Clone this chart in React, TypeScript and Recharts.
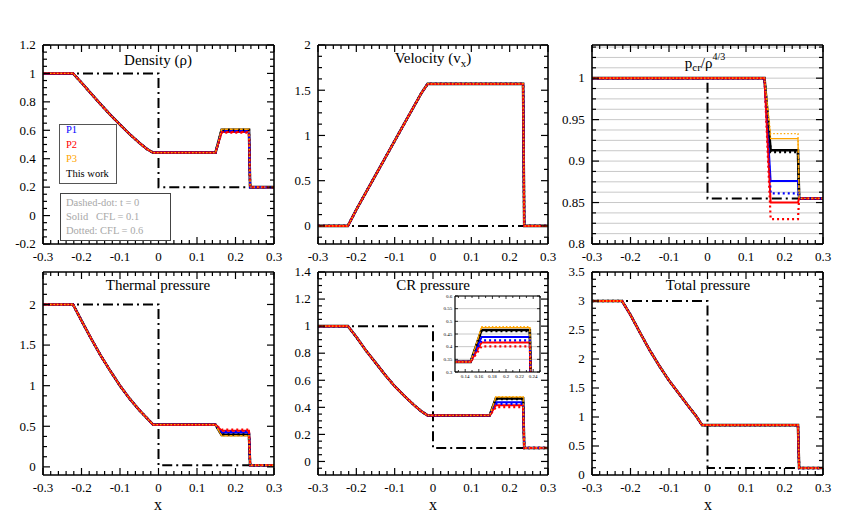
import React from 'react';
import { LineChart, Line, XAxis, YAxis, CartesianGrid } from 'recharts';

const FONT = '"Liberation Serif", "DejaVu Serif", serif';

// x positions shared by every solution curve
const xRare = [-0.3, -0.222, -0.2, -0.175, -0.15, -0.125, -0.1, -0.075, -0.05, -0.03, -0.014];
const xContact = [0.148, 0.164];
const xShock = [0.235, 0.238, 0.3];

// solid = CFL 0.1, dotted = CFL 0.6
const seriesKeys = ['tws', 'p1s', 'p3s', 'p2s', 'twd', 'p1d', 'p2d', 'p3d'];

// Density
const rhoRare = [1, 1, 0.935, 0.858, 0.782, 0.708, 0.64, 0.573, 0.512, 0.468, 0.443];
const rhoPost = { p1s: 0.595, p1d: 0.592, p2s: 0.588, p2d: 0.584, p3s: 0.607, p3d: 0.608, tws: 0.603, twd: 0.602 };
const rhoRight = 0.2;
const rhoInit = [1, 0.2];

// Velocity
const velRare = [0, 0, 0.18, 0.37, 0.56, 0.75, 0.94, 1.13, 1.32, 1.47, 1.57];
const velPost = { p1s: 1.57, p1d: 1.57, p2s: 1.57, p2d: 1.57, p3s: 1.57, p3d: 1.57, tws: 1.57, twd: 1.57 };
const velRight = 0;
const velInit = [0, 0];

// p_cr / rho^(4/3)
const entRare = [1, 1, 1, 1, 1, 1, 1, 1, 1, 1, 1];
const entPost = { p1s: 0.876, p1d: 0.861, p2s: 0.85, p2d: 0.83, p3s: 0.927, p3d: 0.933, tws: 0.913, twd: 0.911 };
const entRight = 0.855;
const entInit = [1, 0.855];

// Thermal pressure
const pthRare = [2, 2, 1.8, 1.58, 1.37, 1.18, 1.0, 0.84, 0.7, 0.6, 0.52];
const pthPost = { p1s: 0.422, p1d: 0.435, p2s: 0.444, p2d: 0.459, p3s: 0.385, p3d: 0.381, tws: 0.394, twd: 0.398 };
const pthRight = 0.02;
const pthInit = [2, 0.02];

// CR pressure
const pcrRare = [1, 1, 0.92, 0.82, 0.73, 0.64, 0.556, 0.485, 0.418, 0.37, 0.34];
const pcrPost = { p1s: 0.438, p1d: 0.425, p2s: 0.416, p2d: 0.401, p3s: 0.475, p3d: 0.479, tws: 0.466, twd: 0.462 };
const pcrRight = 0.1;
const pcrInit = [1, 0.1];

// Total pressure
const ptotRare = [3, 3, 2.76, 2.45, 2.15, 1.88, 1.63, 1.41, 1.19, 1.02, 0.86];
const ptotPost = { p1s: 0.86, p1d: 0.86, p2s: 0.86, p2d: 0.86, p3s: 0.86, p3d: 0.86, tws: 0.86, twd: 0.86 };
const ptotRight = 0.12;
const ptotInit = [3, 0.12];

const styles: Record<string, { stroke: string; width: number; dash?: string }> = {
  tws: { stroke: '#000000', width: 2.6 },
  p1s: { stroke: '#0000ff', width: 2 },
  p2s: { stroke: '#ff0000', width: 2 },
  p3s: { stroke: '#ffa500', width: 1.3 },
  twd: { stroke: '#000000', width: 2.4, dash: '2 3' },
  p1d: { stroke: '#0000ff', width: 2.2, dash: '2 3' },
  p2d: { stroke: '#ff0000', width: 2.2, dash: '2 3' },
  p3d: { stroke: '#ffa500', width: 1.3, dash: '1.5 2' },
};

type Row = Record<string, number>;

function buildRows(rare: number[], post: Record<string, number>, right: number): Row[] {
  const rows: Row[] = [];
  const push = (x: number, val: (k: string) => number) => {
    const r: Row = { x };
    seriesKeys.forEach(k => { r[k] = val(k); });
    rows.push(r);
  };
  xRare.forEach((x, i) => push(x, () => rare[i]));
  push(xContact[0], () => rare[rare.length - 1]);
  push(xContact[1], k => post[k]);
  push(xShock[0], k => post[k]);
  push(xShock[1], () => right);
  push(xShock[2], () => right);
  return rows;
}

function initRows(v: number[]) {
  return [{ x: -0.3, y: v[0] }, { x: 0, y: v[0] }, { x: 0, y: v[1] }, { x: 0.3, y: v[1] }];
}

const range = (a: number, b: number, s: number) => {
  const out: number[] = [];
  const n = Math.round((b - a) / s);
  for (let i = 0; i <= n; i++) out.push(+(a + i * s).toFixed(6));
  return out;
};

const fmt = (v: number) => String(+v.toFixed(4));
const isIn = (list: number[], v: number) => list.some(m => Math.abs(m - v) < 1e-7);

function makeTick(side: string, majors: number[], labels: boolean, big: number, small: number, fs: number, sw: number) {
  return (p: any) => {
    const { x, y, payload } = p;
    const v = payload.value;
    const major = isIn(majors, v);
    const len = major ? big : small;
    let l = { x1: x, y1: y, x2: x, y2: y };
    if (side === 'bottom') l = { x1: x, y1: y, x2: x, y2: y - len };
    if (side === 'top') l = { x1: x, y1: y, x2: x, y2: y + len };
    if (side === 'left') l = { x1: x, y1: y, x2: x + len, y2: y };
    if (side === 'right') l = { x1: x, y1: y, x2: x - len, y2: y };
    return (
      <g>
        <line {...l} stroke="#000" strokeWidth={sw} />
        {labels && major && side === 'bottom' && (
          <text x={x} y={y + fs * 1.27} textAnchor="middle" fontSize={fs} fontFamily={FONT} fill="#000">{fmt(v)}</text>
        )}
        {labels && major && side === 'left' && (
          <text x={x - fs * 0.55} y={y + fs * 0.33} textAnchor="end" fontSize={fs} fontFamily={FONT} fill="#000">{fmt(v)}</text>
        )}
      </g>
    );
  };
}

type PanelProps = {
  L: number; T: number; w: number; h: number;
  xDomain: number[]; xMajor: number[]; xMinor: number[];
  yDomain: number[]; yMajor: number[]; yMinor: number[];
  rows: Row[]; init?: { x: number; y: number }[];
  grid?: boolean; fs?: number; big?: number; small?: number; sw?: number; bg?: boolean;
};

function Panel({ L, T, w, h, xDomain, xMajor, xMinor, yDomain, yMajor, yMinor, rows, init, grid, fs = 13, big = 7, small = 4, sw = 1.2, bg }: PanelProps) {
  // axes are 1px thick, so the outer margins are 1px smaller
  const m = { top: 9, right: 9, bottom: 29, left: 39 };
  const axisLine = { stroke: '#000', strokeWidth: sw + 0.4 };
  return (
    <div style={{ position: 'absolute', left: L - 40, top: T - 10 }}>
      {bg && <div style={{ position: 'absolute', left: 40, top: 10, width: w, height: h, background: '#fff' }} />}
      <LineChart width={w + 50} height={h + 40} margin={m} style={{ position: 'relative' }}>
        {grid && <CartesianGrid xAxisId="b" yAxisId="l" vertical={false} stroke="#c8c8c8" strokeWidth={1} />}
        <XAxis xAxisId="b" type="number" dataKey="x" domain={xDomain} ticks={xMinor} interval={0} height={1}
          tickSize={0} tickMargin={0} tickLine={false} axisLine={axisLine} allowDataOverflow
          tick={makeTick('bottom', xMajor, true, big, small, fs, sw)} />
        <XAxis xAxisId="t" orientation="top" type="number" dataKey="x" domain={xDomain} ticks={xMinor} interval={0} height={1}
          tickSize={0} tickMargin={0} tickLine={false} axisLine={axisLine} allowDataOverflow
          tick={makeTick('top', xMajor, false, big, small, fs, sw)} />
        <YAxis yAxisId="l" type="number" domain={yDomain} ticks={yMinor} interval={0} width={1}
          tickSize={0} tickMargin={0} tickLine={false} axisLine={axisLine} allowDataOverflow
          tick={makeTick('left', yMajor, true, big, small, fs, sw)} />
        <YAxis yAxisId="r" orientation="right" type="number" domain={yDomain} ticks={yMinor} interval={0} width={1}
          tickSize={0} tickMargin={0} tickLine={false} axisLine={axisLine} allowDataOverflow
          tick={makeTick('right', yMajor, false, big, small, fs, sw)} />
        {init && (
          <Line xAxisId="b" yAxisId="l" data={init} dataKey="y" type="linear" stroke="#000" strokeWidth={2}
            strokeDasharray="10 4 2 4" dot={false} activeDot={false} isAnimationActive={false} />
        )}
        {seriesKeys.map(k => (
          <Line key={k} xAxisId="b" yAxisId="l" data={rows} dataKey={k} type="linear" stroke={styles[k].stroke}
            strokeWidth={styles[k].width} strokeDasharray={styles[k].dash} dot={false} activeDot={false}
            isAnimationActive={false} />
        ))}
      </LineChart>
    </div>
  );
}

const xDom = [-0.3, 0.3];
const xMaj = range(-0.3, 0.3, 0.1);
const xMin = range(-0.3, 0.3, 0.02);

function Title({ cx, cy, children, fs = 15 }: { cx: number; cy: number; children: React.ReactNode; fs?: number }) {
  return (
    <div style={{ position: 'absolute', left: cx - 100, top: cy - fs / 2, width: 200, textAlign: 'center',
      fontSize: fs, lineHeight: `${fs}px`, fontFamily: FONT, color: '#000', whiteSpace: 'nowrap' }}>
      {children}
    </div>
  );
}

const legendLine = (color: string, top: number, text: string) => (
  <div style={{ position: 'absolute', left: 66, top: top - 6, fontSize: 10.5, lineHeight: '12px', fontFamily: FONT,
    color, whiteSpace: 'pre' }}>{text}</div>
);

export default function App() {
  return (
    <div style={{ position: 'absolute', left: 0, top: 0, width: 858, height: 512, background: '#fff', overflow: 'hidden' }}>
      <Panel L={43} T={45} w={231} h={199} xDomain={xDom} xMajor={xMaj} xMinor={xMin}
        yDomain={[-0.2, 1.2]} yMajor={range(-0.2, 1.2, 0.2)} yMinor={range(-0.2, 1.2, 0.05)}
        rows={buildRows(rhoRare, rhoPost, rhoRight)} init={initRows(rhoInit)} />
      <Panel L={318} T={45} w={230} h={199} xDomain={xDom} xMajor={xMaj} xMinor={xMin}
        yDomain={[-0.2, 2]} yMajor={range(0, 2, 0.5)} yMinor={range(-0.125, 2, 0.125)}
        rows={buildRows(velRare, velPost, velRight)} init={initRows(velInit)} />
      <Panel L={592} T={45} w={231} h={199} xDomain={xDom} xMajor={xMaj} xMinor={xMin}
        yDomain={[0.8, 1.04]} yMajor={range(0.8, 1, 0.05)} yMinor={range(0.8, 1.0375, 0.0125)} grid
        rows={buildRows(entRare, entPost, entRight)} init={initRows(entInit)} />
      <Panel L={43} T={272} w={231} h={203} xDomain={xDom} xMajor={xMaj} xMinor={xMin}
        yDomain={[-0.1, 2.4]} yMajor={range(0, 2, 0.5)} yMinor={range(0, 2.375, 0.125)}
        rows={buildRows(pthRare, pthPost, pthRight)} init={initRows(pthInit)} />
      <Panel L={318} T={272} w={230} h={203} xDomain={xDom} xMajor={xMaj} xMinor={xMin}
        yDomain={[-0.1, 1.4]} yMajor={range(0, 1.4, 0.2)} yMinor={range(-0.05, 1.4, 0.05)}
        rows={buildRows(pcrRare, pcrPost, pcrRight)} init={initRows(pcrInit)} />
      <Panel L={592} T={272} w={231} h={203} xDomain={xDom} xMajor={xMaj} xMinor={xMin}
        yDomain={[0, 3.5]} yMajor={range(0, 3.5, 0.5)} yMinor={range(0, 3.5, 0.125)}
        rows={buildRows(ptotRare, ptotPost, ptotRight)} init={initRows(ptotInit)} />

      {/* inset: zoom on the CR pressure plateau */}
      <Panel L={455} T={296} w={85} h={76} xDomain={[0.125, 0.25]} xMajor={range(0.14, 0.24, 0.02)}
        xMinor={range(0.13, 0.25, 0.01)} yDomain={[0.3, 0.6]} yMajor={range(0.3, 0.6, 0.05)}
        yMinor={range(0.3, 0.6, 0.05)} grid fs={5} big={3} small={2} sw={0.8} bg
        rows={buildRows(pcrRare, pcrPost, pcrRight)} />

      <Title cx={158} cy={60}>Density (ρ)</Title>
      <Title cx={433} cy={58}>Velocity (v<span style={{ fontSize: 11, position: 'relative', top: 4 }}>x</span>)</Title>
      <Title cx={705} cy={63}>p<span style={{ fontSize: 11, position: 'relative', top: 3 }}>cr</span>/ρ<span style={{ fontSize: 10, position: 'relative', top: -8 }}>4/3</span></Title>
      <Title cx={158} cy={285}>Thermal pressure</Title>
      <Title cx={433} cy={285}>CR pressure</Title>
      <Title cx={708} cy={285}>Total pressure</Title>
      <Title cx={158} cy={505} fs={16}>x</Title>
      <Title cx={433} cy={505} fs={16}>x</Title>
      <Title cx={708} cy={505} fs={16}>x</Title>

      <div style={{ position: 'absolute', left: 59, top: 124, width: 56, height: 58, border: '1.5px solid #555', background: '#fff' }} />
      {legendLine('#0000ff', 130, 'P1')}
      {legendLine('#ff0000', 145, 'P2')}
      {legendLine('#ffa500', 159, 'P3')}
      {legendLine('#000000', 174, 'This work')}
      <div style={{ position: 'absolute', left: 60, top: 193, width: 109, height: 46, border: '1.5px solid #444', background: '#fff' }} />
      {legendLine('#a8a8a8', 203, 'Dashed-dot: t = 0')}
      {legendLine('#a8a8a8', 217, 'Solid   CFL = 0.1')}
      {legendLine('#a8a8a8', 231, 'Dotted: CFL = 0.6')}
    </div>
  );
}
